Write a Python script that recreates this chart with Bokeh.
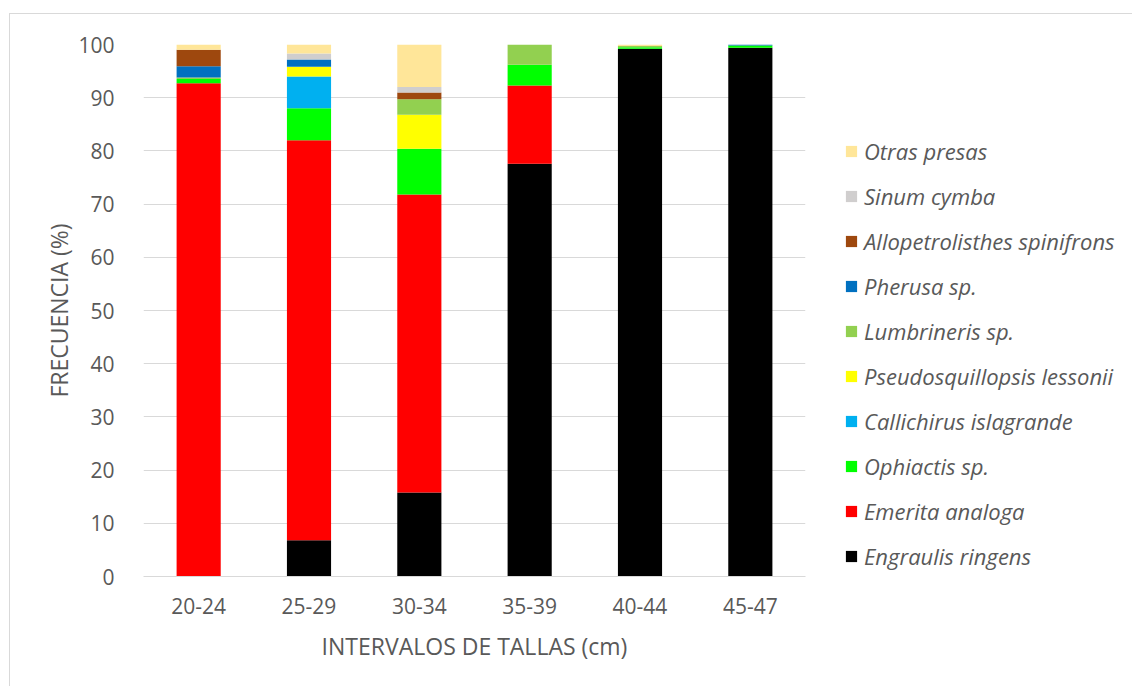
from bokeh.plotting import figure
from bokeh.models import ColumnDataSource, Legend, LegendItem, Range1d, FactorRange
from bokeh.layouts import row
from bokeh.embed import file_html
from bokeh.resources import INLINE

categories = ["20-24", "25-29", "30-34", "35-39", "40-44", "45-47"]

engraulis = [0.0, 6.8, 15.8, 77.6, 99.2, 99.4]
emerita = [92.7, 75.2, 56.0, 14.7, 0.0, 0.0]
ophiactis = [0.8, 6.0, 8.6, 3.9, 0.3, 0.4]
callichirus = [0.0, 6.0, 0.0, 0.0, 0.0, 0.0]
pseudosquillopsis = [0.0, 1.8, 6.4, 0.0, 0.0, 0.0]
lumbrineris = [0.3, 0.0, 2.9, 3.8, 0.2, 0.0]
pherusa = [2.1, 1.4, 0.0, 0.0, 0.0, 0.2]
allopetrolisthes = [3.1, 0.0, 1.3, 0.0, 0.0, 0.0]
sinum = [0.0, 1.1, 1.0, 0.0, 0.0, 0.0]
otras = [1.0, 1.7, 8.0, 0.0, 0.3, 0.0]

species = ["Engraulis ringens", "Emerita analoga", "Ophiactis sp.", "Callichirus islagrande",
           "Pseudosquillopsis lessonii", "Lumbrineris sp.", "Pherusa sp.",
           "Allopetrolisthes spinifrons", "Sinum cymba", "Otras presas"]
series = [engraulis, emerita, ophiactis, callichirus, pseudosquillopsis, lumbrineris,
          pherusa, allopetrolisthes, sinum, otras]
colors = ["#000000", "#FF0000", "#00FF00", "#00B0F0", "#FFFF00", "#92D050",
          "#0070C0", "#9E480E", "#D0CECE", "#FFE699"]

keys = ["s%d" % i for i in range(len(species))]
data = {"cat": categories}
for k, s in zip(keys, series):
    data[k] = s
source = ColumnDataSource(data)

TXT = "#595959"
FONT = "Open Sans"
BORDER = "1px solid #d9d9d9"

p = figure(x_range=categories, y_range=(0, 100), width=800, height=673,
           output_backend="svg", toolbar_location=None,
           min_border_left=133, min_border_right=5, min_border_top=30, min_border_bottom=111)
p.outline_line_color = None
p.styles = {"border-top": BORDER, "border-left": BORDER}

renderers = p.vbar_stack(keys, x="cat", width=0.4, color=colors, line_color=None, source=source)

p.xgrid.grid_line_color = None
p.ygrid.grid_line_color = "#d9d9d9"
p.ygrid.grid_line_width = 1
p.yaxis.ticker = list(range(0, 101, 10))

for ax in (p.xaxis[0], p.yaxis[0]):
    ax.major_tick_line_color = None
    ax.minor_tick_line_color = None
    ax.major_label_text_font = FONT
    ax.major_label_text_font_size = "21px"
    ax.major_label_text_color = TXT
    ax.axis_label_text_font = FONT
    ax.axis_label_text_font_size = "23px"
    ax.axis_label_text_color = TXT
    ax.axis_label_text_font_style = "normal"

p.xaxis.axis_line_color = "#d9d9d9"
p.yaxis.axis_line_color = None
p.xaxis.axis_label = "INTERVALOS DE TALLAS (cm)"
p.yaxis.axis_label = "FRECUENCIA (%)"
p.yaxis.major_label_standoff = 23
p.xaxis.major_label_standoff = 15
p.yaxis.axis_label_standoff = 0
p.xaxis.axis_label_standoff = 13

# legend panel: a second figure whose hidden stacked bars feed the legend swatches
lg = figure(width=323, height=673, output_backend="svg", toolbar_location=None,
            x_range=FactorRange(*categories), y_range=Range1d(-300, -200),
            min_border_left=0, min_border_right=0, min_border_top=0, min_border_bottom=0)
lg.axis.visible = False
lg.grid.grid_line_color = None
lg.outline_line_color = None
lg.styles = {"border-top": BORDER}
swatches = lg.vbar_stack(keys, x="cat", width=0.4, color=colors, line_color=None, source=source)
for r in swatches:
    r.visible = False

items = [LegendItem(label=sp, renderers=[r]) for sp, r in zip(species, swatches)]
items.reverse()
legend = Legend(items=items, location=(35, 5), padding=0, margin=0,
                border_line_alpha=0, background_fill_alpha=0, click_policy="none",
                spacing=15, label_height=30, glyph_height=14, glyph_width=14,
                label_standoff=6, label_text_font=FONT, label_text_font_style="italic",
                label_text_font_size="22px", label_text_color=TXT)
lg.add_layout(legend)

layout = row(p, lg)
layout.margin = (13, 0, 0, 9)

open("out.html", "w").write(file_html(layout, INLINE))
